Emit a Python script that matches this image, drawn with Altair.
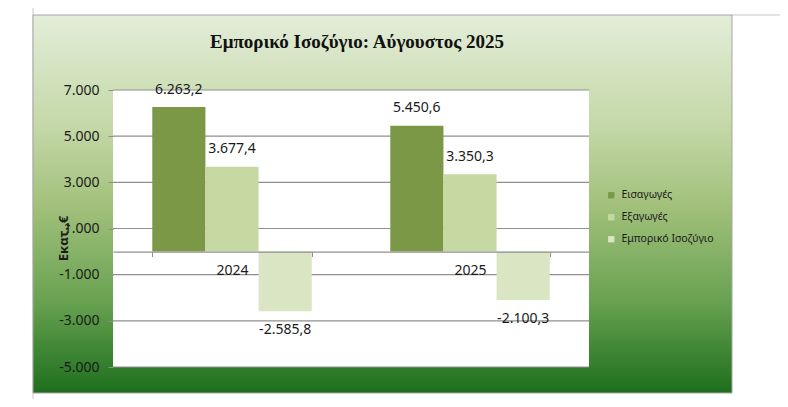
import altair as alt
import pandas as pd

years = ["2024", "2025"]
series = ["Εισαγωγές", "Εξαγωγές", "Εμπορικό Ισοζύγιο"]
imports = [6263.2, 5450.6]
exports = [3677.4, 3350.3]
balance = [-2585.8, -2100.3]
y_ticks = [-5000, -3000, -1000, 1000, 3000, 5000, 7000]
colors = ["#7b9846", "#c6d9a3", "#d9e5c3"]

rows = []
for i, yr in enumerate(years):
    for s, vals in zip(series, [imports, exports, balance]):
        rows.append({"year": yr, "series": s, "value": vals[i]})
df = pd.DataFrame(rows)
grid_df = pd.DataFrame({"value": y_ticks})

W, H = 476, 277
ymin, ymax = -5000, 7000
zero_offset = -H * (0 - ymin) / (ymax - ymin)

yscale = alt.Scale(domain=[ymin, ymax], nice=False, zero=False)
xscale = alt.Scale(domain=years, paddingInner=0.33, paddingOuter=0.165)
xoff_scale = alt.Scale(domain=series, paddingInner=0, paddingOuter=0)
FONT = "Noto Sans"
TXT = "#1a1a1a"
GRID = "#8f8f8f"

one = alt.Data(values=[{"k": 0}])

# page guide lines (document frame)
page_h = alt.Chart(one).mark_rule(color="#c8c8c8", strokeWidth=1).encode(
    x=alt.value(619), x2=alt.value(667), y=alt.value(-75)
)
page_v = alt.Chart(one).mark_rule(color="#c8c8c8", strokeWidth=1).encode(
    x=alt.value(-80), y=alt.value(-82), y2=alt.value(309)
)

bg = alt.Chart(one).mark_rect(
    fill=alt.Gradient(
        gradient="linear",
        stops=[
            alt.GradientStop(color="#e3edd9", offset=0),
            alt.GradientStop(color="#c3d8a6", offset=0.3),
            alt.GradientStop(color="#a3c17c", offset=0.5),
            alt.GradientStop(color="#6aa352", offset=0.75),
            alt.GradientStop(color="#1d6f1d", offset=1),
        ],
        x1=0, x2=0, y1=0, y2=1,
    ),
    stroke="#a6a6a6", strokeWidth=1,
).encode(x=alt.value(-80), x2=alt.value(619), y=alt.value(-75), y2=alt.value(303))

plotbg = alt.Chart(one).mark_rect(fill="white").encode(
    x=alt.value(0), x2=alt.value(W), y=alt.value(0), y2=alt.value(H)
)

grid = alt.Chart(grid_df).mark_rule(color=GRID, strokeWidth=1.2).encode(
    y=alt.Y("value:Q", scale=yscale)
)

bars = alt.Chart(df).mark_bar().encode(
    x=alt.X("year:N", scale=xscale, sort=years,
            axis=alt.Axis(title=None, offset=zero_offset, labelAngle=0, tickBand="extent",
                          domainColor=GRID, domainWidth=1.2, tickColor=GRID, tickSize=5,
                          labelFont=FONT, labelFontSize=14, labelColor=TXT, labelPadding=7,
                          zindex=1)),
    xOffset=alt.XOffset("series:N", scale=xoff_scale, sort=series),
    y=alt.Y("value:Q", scale=yscale,
            axis=alt.Axis(values=y_ticks, format=",.0f", grid=False, domain=False,
                          tickColor=GRID, tickSize=5, labelPadding=9,
                          labelFont=FONT, labelFontSize=14, labelColor=TXT,
                          title="Εκατ.,€", titleFont=FONT, titleFontSize=13, titleFontWeight="bold",
                          titleColor=TXT, titleX=-50, titleY=148, titleAngle=-90,
                          titleAlign="center", titleBaseline="middle", zindex=1)),
    color=alt.Color("series:N", sort=series,
                    scale=alt.Scale(domain=series, range=colors),
                    legend=alt.Legend(orient="none", legendX=493, legendY=100, title=None,
                                      symbolType="square", symbolSize=40, symbolStrokeWidth=0,
                                      labelFont=FONT, labelFontSize=10.5, labelColor=TXT,
                                      labelOffset=5, rowPadding=11, zindex=1)),
)

lab_pos = alt.Chart(df).transform_filter("datum.value >= 0").mark_text(
    font=FONT, fontSize=14, color=TXT, baseline="middle", dy=-17.5
).encode(
    x=alt.X("year:N", scale=xscale, sort=years),
    xOffset=alt.XOffset("series:N", scale=xoff_scale, sort=series),
    y=alt.Y("value:Q", scale=yscale),
    text=alt.Text("value:Q", format=",.1f"),
)
lab_neg = alt.Chart(df).transform_filter("datum.value < 0").mark_text(
    font=FONT, fontSize=14, color=TXT, baseline="middle", dy=18.5
).encode(
    x=alt.X("year:N", scale=xscale, sort=years),
    xOffset=alt.XOffset("series:N", scale=xoff_scale, sort=series),
    y=alt.Y("value:Q", scale=yscale),
    text=alt.Text("value:Q", format=",.1f"),
)

chart = alt.layer(page_h, page_v, bg, plotbg, grid, bars, lab_pos, lab_neg).properties(
    width=W, height=H,
    title=alt.TitleParams("Εμπορικό Ισοζύγιο: Αύγουστος 2025", font="Liberation Serif",
                          fontSize=19, fontWeight="bold", color="#111111",
                          anchor="middle", dx=6, offset=-44, zindex=1),
    autosize=alt.AutoSizeParams(type="none"),
    padding={"left": 105, "top": 82, "right": 191, "bottom": 32},
    background="white",
).configure_view(stroke=None).configure(
    locale=alt.Locale(number=alt.NumberLocale(decimal=",", thousands=".", grouping=[3],
                                              currency=["", "€"], minus="-"))
)

chart.save("out.html", embed_options={"renderer": "svg", "actions": False})
